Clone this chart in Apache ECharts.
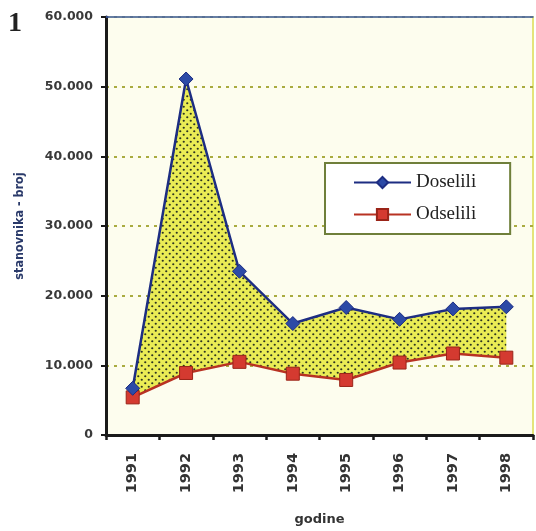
<!DOCTYPE html>
<html><head><meta charset="utf-8">
<script src="https://cdn.jsdelivr.net/npm/echarts@6/dist/echarts.min.js"></script>
<style>html,body{margin:0;padding:0;background:#fff}#c{width:536px;height:531px}</style>
</head><body><div id="c"></div>
<script>
const categories = ['1991','1992','1993','1994','1995','1996','1997','1998'];
const doselili = [6700, 51100, 23500, 16000, 18300, 16600, 18100, 18400];
const odselili = [5400, 8900, 10500, 8800, 7900, 10400, 11700, 11100];
const yTicks = [0, 10000, 20000, 30000, 40000, 50000, 60000];

const tile = document.createElement('canvas');
tile.width = 7; tile.height = 7;
const tc = tile.getContext('2d');
tc.fillStyle = '#eaec55'; tc.fillRect(0,0,7,7);
tc.fillStyle = '#2b3322';
tc.beginPath(); tc.arc(1.75,1.75,1.1,0,Math.PI*2); tc.fill();
tc.beginPath(); tc.arc(5.25,5.25,1.1,0,Math.PI*2); tc.fill();

const diff = doselili.map((v,i)=>v-odselili[i]);
const fmt = v => v === 0 ? '0' : (v/1000).toFixed(0) + '.000';

const chart = echarts.init(document.getElementById('c'));
chart.setOption({
  animation:false,
  grid:{left:106, right:3, top:17, bottom:91, show:true, backgroundColor:'#fdfdee', borderColor:'#e4e57a', borderWidth:2},
  legend:{
    data:['Doselili','Odselili'], orient:'vertical', left:325, top:163,
    backgroundColor:'#ffffff', borderColor:'#6f7f3a', borderWidth:2,
    padding:[10,34,10,28], itemGap:13, itemWidth:57, itemHeight:14,
    textStyle:{fontFamily:'Liberation Serif', fontSize:19, color:'#222'}
  },
  graphic:[{type:'text', left:8, top:10, style:{text:'1', font:'bold 28px "Liberation Serif"', fill:'#222'}}],
  xAxis:[{
    type:'category', data:categories, boundaryGap:true,
    name:'godine', nameLocation:'middle', nameGap:78,
    nameTextStyle:{fontFamily:'DejaVu Sans', fontWeight:'bold', fontSize:13, color:'#333'},
    axisLine:{lineStyle:{color:'#1a1a1a', width:3}},
    axisTick:{show:true, length:5, lineStyle:{color:'#1a1a1a', width:2.5}},
    axisLabel:{rotate:90, margin:18, fontFamily:'DejaVu Sans', fontWeight:'bold', fontSize:14.5, color:'#333'}
  },{
    type:'category', data:categories, position:'top',
    axisLine:{lineStyle:{color:'#3d5cb0', width:1.5}}, axisTick:{show:false}, axisLabel:{show:false}
  }],
  yAxis:{
    type:'value', min:0, max:60000, interval:10000,
    name:'stanovnika - broj', nameLocation:'middle', nameGap:80, nameRotate:90,
    nameTextStyle:{fontFamily:'DejaVu Sans Condensed', fontWeight:'bold', fontSize:12.5, color:'#2a3a6a'},
    axisLine:{show:true, lineStyle:{color:'#1a1a1a', width:3}},
    axisTick:{show:true, length:5, lineStyle:{color:'#1a1a1a', width:2}},
    axisLabel:{formatter:fmt, margin:13, fontFamily:'DejaVu Sans', fontWeight:'bold', fontSize:12.5, color:'#3a3a3a'},
    splitLine:{lineStyle:{color:'#a9ab40', width:2, type:[3,5]}}
  },
  series:[
    {name:'base', type:'line', stack:'f', data:odselili, symbol:'none', lineStyle:{opacity:0}, silent:true, z:1},
    {name:'fill', type:'line', stack:'f', data:diff, symbol:'none', lineStyle:{opacity:0}, silent:true, z:1,
     areaStyle:{color:{image:tile, repeat:'repeat'}, opacity:1}},
    {name:'Doselili', type:'line', data:doselili, symbol:'diamond', symbolSize:14, z:5,
     lineStyle:{color:'#1d2d82', width:2.5}, itemStyle:{color:'#2c4aa6', borderColor:'#1d2d82', borderWidth:1}},
    {name:'Odselili', type:'line', data:odselili, symbol:'rect', symbolSize:13, z:4,
     lineStyle:{color:'#b83222', width:2.5}, itemStyle:{color:'#d43a30', borderColor:'#9a2418', borderWidth:1}}
  ]
});
</script></body></html>
